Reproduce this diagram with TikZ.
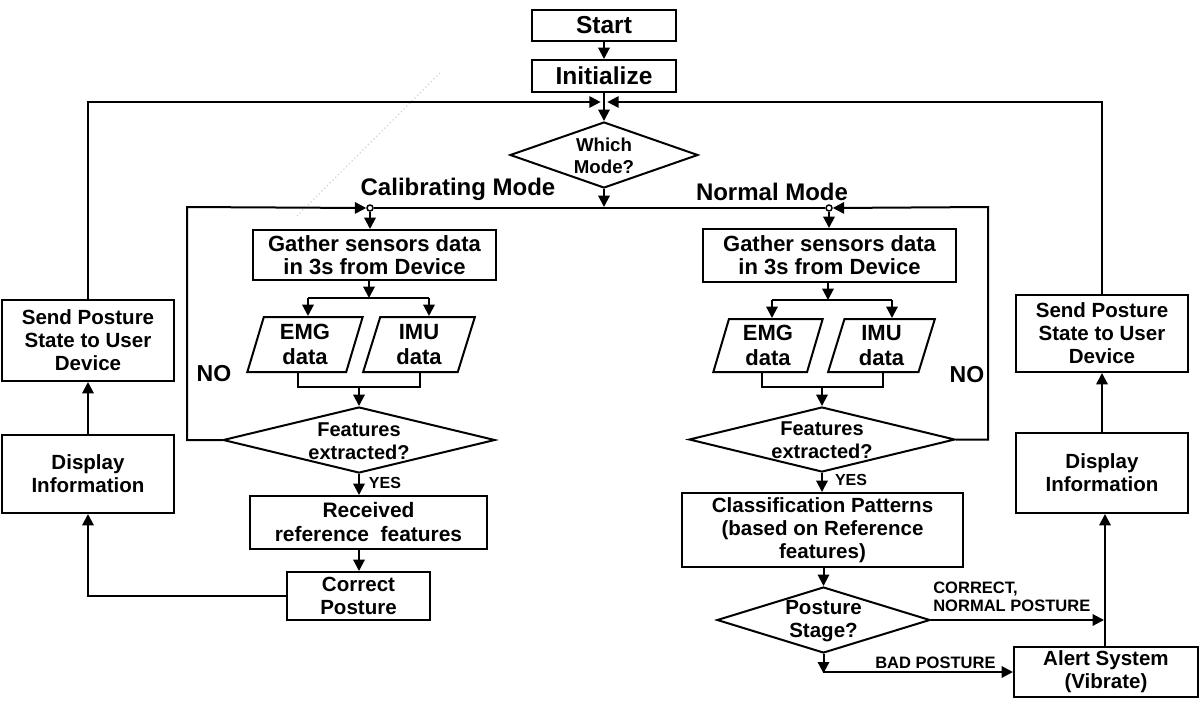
\documentclass[tikz,border=0pt]{standalone}
\usepackage{fontspec}
\setmainfont{Liberation Sans}
\usetikzlibrary{arrows.meta,shapes.geometric}
\newcommand\fsz[2]{\fontsize{#1pt}{#2pt}\selectfont\bfseries}
\tikzset{
 ln/.style={line width=1.5pt},
 arr/.style={line width=1.5pt,-{Triangle[length=8.5pt,width=8.5pt]}},
 boxnode/.style={draw,line width=1.5pt,inner sep=0pt,align=center,font=\fsz{15.4}{17.3}},
 dia/.style={draw,diamond,line width=1.5pt,inner sep=0pt},
 para/.style={draw,trapezium,trapezium left angle=76,trapezium right angle=104,trapezium stretches=true,line width=1.5pt,inner sep=0pt,align=center,font=\fsz{16.5}{18.5}},
 smalldot/.style={circle,draw,fill=white,line width=1.1pt,inner sep=0pt,minimum size=4.5pt},
 lbl/.style={inner sep=0pt,align=center},
}
\begin{document}
\begin{tikzpicture}[x=0.75pt,y=-0.75pt]
\useasboundingbox (0,0) rectangle (1199,711);
% faint artifact
\coordinate (da) at (297,216);
\coordinate (db) at (440,73);
\draw[gray!35,dotted,line width=0.9pt] (da) -- (db);

% top
\node[boxnode,font=\fsz{18.4}{20},minimum width=108pt,minimum height=23.25pt] (start) at (604,25.5) {Start};
\node[boxnode,font=\fsz{18.4}{20},minimum width=108pt,minimum height=24pt] (init) at (604,76) {Initialize};
\node[dia,minimum width=141pt,minimum height=49.5pt] (which) at (604,155) {};
\node[lbl,font=\fsz{14}{16.5}] (whichT) at (604,156) {Which\\Mode?};
\coordinate (jn) at (604,102);
\coordinate (mode) at (604,207);

\node[lbl,font=\fsz{18}{20}] (calT) at (458,189) {Calibrating Mode};
\node[lbl,font=\fsz{18}{20}] (norT) at (772,192) {Normal Mode};

% calibrating branch
\node[smalldot] (lc) at (370,208) {};
\node[boxnode,font=\fsz{16.5}{17.3},minimum width=182.25pt,minimum height=37.5pt] (calgather) at (374.5,255) {Gather sensors data\\in 3s from Device};
\node[para,minimum width=87pt,minimum height=41.25pt] (calemg) at (305,344.5) {EMG\\data};
\node[para,minimum width=84pt,minimum height=41.25pt] (calimu) at (419,344.5) {IMU\\data};
\node[dia,minimum width=204pt,minimum height=49.5pt] (calfeat) at (359,440) {};
\node[lbl,font=\fsz{15}{17.5}] (calfeatT) at (359,441) {Features\\extracted?};
\node[boxnode,font=\fsz{15.7}{18},minimum width=177.75pt,minimum height=39.75pt] (calrec) at (368.5,522.5) {Received\\reference\ \ features};
\node[boxnode,minimum width=107.25pt,minimum height=36pt] (correct) at (358.5,596) {Correct\\Posture};
\node[boxnode,minimum width=129pt,minimum height=58.5pt] (ldisp) at (88,474) {Display\\Information};
\node[boxnode,minimum width=129pt,minimum height=60.75pt] (lsend) at (88,340.5) {Send Posture\\State to User\\Device};

% normal branch
\node[smalldot] (rc) at (829,208) {};
\node[boxnode,font=\fsz{16.5}{17.3},minimum width=189.75pt,minimum height=39.75pt] (normgather) at (829.5,255.5) {Gather sensors data\\in 3s from Device};
\node[para,minimum width=82.5pt,minimum height=39.75pt] (normemg) at (768,345.5) {EMG\\data};
\node[para,minimum width=80.25pt,minimum height=39.75pt] (normimu) at (881.5,345.5) {IMU\\data};
\node[dia,minimum width=199.5pt,minimum height=48.75pt] (normfeat) at (822,439.5) {};
\node[lbl,font=\fsz{15}{17.5}] (normfeatT) at (822,440.5) {Features\\extracted?};
\node[boxnode,minimum width=210.75pt,minimum height=55.5pt] (class) at (822.5,530) {Classification Patterns\\(based on Reference\\features)};
\node[dia,minimum width=159.75pt,minimum height=49.5pt] (posture) at (823.5,620) {};
\node[lbl,font=\fsz{15.4}{17.5}] (postureT) at (823.5,621) {Posture\\Stage?};
\node[boxnode,minimum width=138pt,minimum height=37.5pt] (alert) at (1106,672) {Alert System\\(Vibrate)};
\node[boxnode,minimum width=129pt,minimum height=60pt] (rdisp) at (1102,473) {Display\\Information};
\node[boxnode,minimum width=129pt,minimum height=57.75pt] (rsend) at (1102,333.5) {Send Posture\\State to User\\Device};

% labels
\node[lbl,font=\fsz{17.3}{19}] (noL) at (214,374) {NO};
\node[lbl,font=\fsz{17.3}{19}] (noR) at (967,375) {NO};
\node[lbl,font=\fsz{12}{13}] (yesL) at (385,483) {YES};
\node[lbl,font=\fsz{12}{13}] (yesR) at (851,480) {YES};
\node[lbl,font=\fsz{12.4}{13.6},align=left,anchor=west] (corrL) at (933,597) {CORRECT,\\NORMAL POSTURE};
\node[lbl,font=\fsz{12.4}{13.6},anchor=west] (badL) at (875,663) {BAD POSTURE};

% connectors top
\draw[arr] (start) -- (init);
\draw[arr] (init) -- (which);
\draw[arr] (which) -- (mode);
\draw[ln] (lc) -- (rc);
\draw[arr] (lsend.north) |- ([xshift=-2.5pt]jn);
\draw[arr] (rsend.north) |- ([xshift=2.5pt]jn);

% calibrating connectors
\coordinate (lloop) at (187,207);
\draw[arr] (calfeat.west) -| (lloop) -- (lc.west);
\draw[arr] (lc.south) -- (lc |- calgather.north);
\coordinate (lsplit) at (369,298);
\coordinate (lsa) at (308,298);
\coordinate (lsb) at (429,298);
\draw[arr] (lsplit |- calgather.south) -- (lsplit);
\draw[ln] (lsa) -- (lsb);
\draw[arr] (lsa) -- (lsa |- calemg.north);
\draw[arr] (lsb) -- (lsb |- calimu.north);
\coordinate (lm1) at (298,387);
\coordinate (lm2) at (420,387);
\draw[ln] (lm1 |- calemg.south) -- (lm1) -- (lm2) -- (lm2 |- calimu.south);
\draw[arr] (calfeat.north |- lm1) -- (calfeat.north);
\draw[arr] (calfeat.south) -- (calfeat.south |- calrec.north);
\draw[arr] (calfeat.south |- calrec.south) -- (calfeat.south |- correct.north);
\draw[arr] (correct.west) -| (ldisp.south);
\draw[arr] (ldisp) -- (lsend);

% normal connectors
\coordinate (rloop) at (988,207);
\draw[arr] (normfeat.east) -| (rloop) -- (rc.east);
\draw[arr] (rc.south) -- (rc |- normgather.north);
\coordinate (rsplit) at (828,300);
\coordinate (rsa) at (772,300);
\coordinate (rsb) at (892,300);
\draw[arr] (rsplit |- normgather.south) -- (rsplit);
\draw[ln] (rsa) -- (rsb);
\draw[arr] (rsa) -- (rsa |- normemg.north);
\draw[arr] (rsb) -- (rsb |- normimu.north);
\coordinate (rm1) at (762,387);
\coordinate (rm2) at (883,387);
\draw[ln] (rm1 |- normemg.south) -- (rm1) -- (rm2) -- (rm2 |- normimu.south);
\draw[arr] (normfeat.north |- rm1) -- (normfeat.north);
\draw[arr] (normfeat.south) -- (normfeat.south |- class.north);
\draw[arr] (class.south -| posture.north) -- (posture.north);
\coordinate (rj) at (1104,620);
\draw[arr] (posture.east) -- (rj);
\coordinate (bp) at (823.5,672);
\draw[arr] (posture.south) -- ([yshift=-1pt]bp);
\draw[arr] (bp) -- (alert.west);
\coordinate (rv) at (1105,647);
\draw[arr] (rv) -- (rv |- rdisp.south);
\draw[arr] (rdisp) -- (rsend);
\end{tikzpicture}
\end{document}
